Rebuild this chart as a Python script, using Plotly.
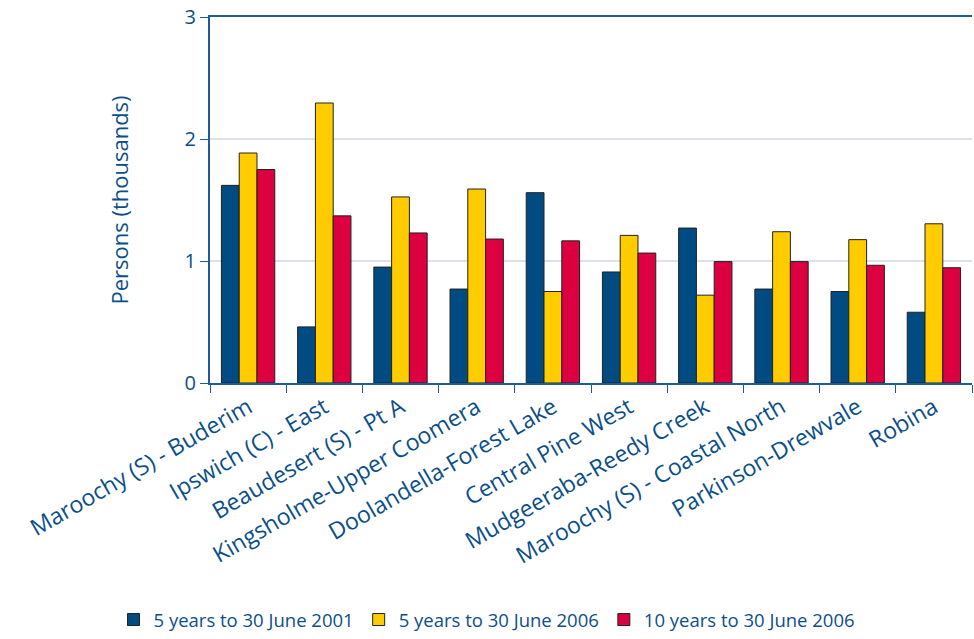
import plotly.graph_objects as go

categories = ["Maroochy (S) - Buderim", "Ipswich (C) - East", "Beaudesert (S) - Pt A",
              "Kingsholme-Upper Coomera", "Doolandella-Forest Lake", "Central Pine West",
              "Mudgeeraba-Reedy Creek", "Maroochy (S) - Coastal North", "Parkinson-Drewvale", "Robina"]
s2001 = [1.62, 0.46, 0.95, 0.77, 1.56, 0.91, 1.27, 0.77, 0.75, 0.58]
s2006 = [1.885, 2.295, 1.525, 1.59, 0.75, 1.21, 0.72, 1.24, 1.175, 1.305]
s10y = [1.75, 1.37, 1.23, 1.18, 1.165, 1.065, 0.995, 0.995, 0.965, 0.945]
series_names = ["5 years to 30 June 2001", "5 years to 30 June 2006", "10 years to 30 June 2006"]
colors = ["#004B82", "#FFCC00", "#DC0040"]

text_color = "#0B4F8A"
axis_color = "#1D5C96"

fig = go.Figure()
for name, vals, c in zip(series_names, [s2001, s2006, s10y], colors):
    fig.add_trace(go.Bar(x=categories, y=vals, name=name, marker_color=c,
                         marker_line=dict(color="#222222", width=1)))

fig.update_layout(
    width=974, height=639,
    barmode="group", bargap=0.3, bargroupgap=0,
    plot_bgcolor="white", paper_bgcolor="white",
    margin=dict(l=210, r=2, t=17, b=256, autoexpand=False),
    font=dict(family="Open Sans", color=text_color, size=18),
    showlegend=True,
    legend=dict(orientation="h", xref="container", yref="container", x=0.5, xanchor="center",
                y=0.0, yanchor="bottom", font=dict(size=18.5, color=text_color),
                itemwidth=30, tracegroupgap=0),
)
fig.update_xaxes(
    showline=True, linecolor=axis_color, linewidth=2, mirror=True,
    ticks="outside", tickson="boundaries", ticklen=8, tickcolor=axis_color, tickwidth=1,
    tickangle=-30, tickfont=dict(size=23, color=text_color), automargin=False,
)
fig.update_yaxes(
    range=[0, 3], dtick=1, showline=True, linecolor=axis_color, linewidth=2,
    ticks="outside", ticklen=8, tickcolor=axis_color,
    showgrid=True, gridcolor="#DDE1EE", gridwidth=2, zeroline=False,
    tickfont=dict(size=20, color=text_color), automargin=False,
    title=dict(text="Persons (thousands)", font=dict(size=22, color=text_color), standoff=50),
)

fig.write_html("out.html")
